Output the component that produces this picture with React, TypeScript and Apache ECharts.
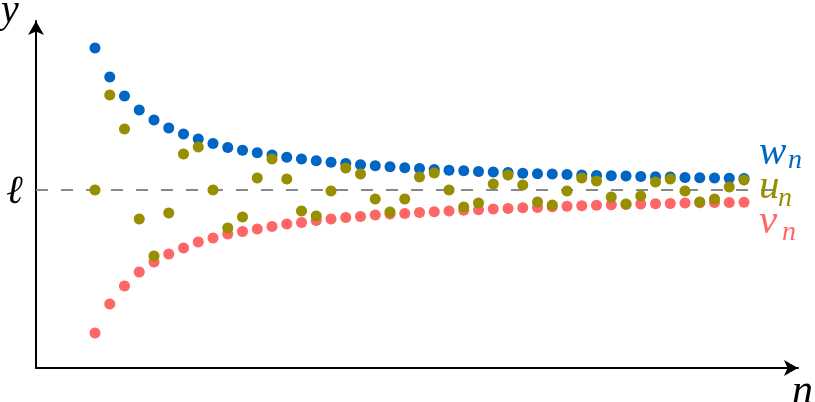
import React, { useEffect, useRef } from "react";
import * as echarts from "echarts";

// index n of each term
const nValues = [
  1, 2, 3, 4, 5, 6, 7, 8, 9, 10, 11, 12, 13, 14, 15, 16, 17, 18, 19, 20, 21, 22, 23,
  24, 25, 26, 27, 28, 29, 30, 31, 32, 33, 34, 35, 36, 37, 38, 39, 40, 41, 42, 43, 44, 45,
];
// w_n (decreasing to ℓ), values relative to ℓ = 0
const wValues = [
  142, 113, 94, 80, 70, 62, 56, 51, 46.5, 42.5, 39.8, 37.2, 35, 32.8, 31, 29.3, 27.8, 26.5,
  25.3, 24.2, 23.2, 22.3, 21.4, 20.6, 19.8, 19.2, 18.5, 17.9, 17.4, 16.8, 16.3, 15.9, 15.4,
  15, 14.6, 14.2, 13.9, 13.5, 13.2, 12.9, 12.6, 12.3, 12, 11.8, 11.6,
];
// u_n (oscillating around ℓ)
const uValues = [
  0, 95, 61, -29, -66, -23, 36, 43, 0, -38, -27, 12, 31, 11, -21, -26, -1, 22, 16, -9, -22,
  -9, 13, 17, 0, -17, -13, 6, 15, 5, -12, -15, -1, 12, 9, -7, -14, -6, 8, 11, -1, -12, -9, 3, 10,
];
// v_n (increasing to ℓ)
const vValues = [
  -143, -114, -96, -82, -72, -64, -58, -52, -48, -44, -41.5, -39, -36.5, -34, -32.5, -30.6,
  -29, -27.6, -26.4, -25, -24, -23.4, -22.6, -21.8, -21, -20.3, -19.8, -19, -18.4, -17.8,
  -17.4, -16.8, -16.2, -15.7, -15.2, -14.8, -14.4, -14, -13.7, -13.4, -13.1, -12.8, -12.6,
  -12.4, -12.2,
];
const ellLevel = 0;
const dashRange = [-3, 47];
const xRange = [-3, 48.66];
const yRange = [-178, 169];

const BLUE = "#0066c4";
const OLIVE = "#988f00";
const RED = "#ff6666";
const FONT = "Liberation Serif";

export default function App() {
  const ref = useRef<HTMLDivElement>(null);
  useEffect(() => {
    const chart = echarts.init(ref.current!, null, { renderer: "svg" });
    const pairs = (ys: number[]) => nValues.map((n, i) => [n, ys[i]]);
    const txt = (
      text: string,
      x: number,
      y: number,
      size: number,
      lh: number,
      color: string
    ) => ({
      type: "text",
      silent: true,
      z: 100,
      style: {
        text,
        x,
        y,
        fill: color,
        fontSize: size,
        fontFamily: FONT,
        fontStyle: "italic",
        lineHeight: lh,
        align: "left",
        verticalAlign: "middle",
        textAlign: "left",
        textVerticalAlign: "middle",
      },
    });
    const axisCommon = {
      type: "value" as const,
      axisTick: { show: false },
      axisLabel: { show: false },
      splitLine: { show: false },
    };
    const axisLine = {
      show: true,
      onZero: false,
      symbol: ["none", "arrow"],
      symbolSize: [12, 14],
      lineStyle: { color: "#000", width: 2 },
    };
    chart.setOption({
      animation: false,
      grid: { left: 36, right: 17, top: 21, bottom: 34, containLabel: false },
      xAxis: { ...axisCommon, min: xRange[0], max: xRange[1], axisLine },
      yAxis: { ...axisCommon, min: yRange[0], max: yRange[1], axisLine },
      series: [
        {
          type: "line",
          data: [
            [dashRange[0], ellLevel],
            [dashRange[1], ellLevel],
          ],
          symbol: "none",
          silent: true,
          lineStyle: { color: "#888888", width: 2, type: [12, 13] },
          z: 1,
        },
        {
          type: "scatter",
          name: "w",
          data: pairs(wValues),
          symbolSize: 11,
          itemStyle: { color: BLUE, opacity: 1 },
          z: 2,
        },
        {
          type: "scatter",
          name: "v",
          data: pairs(vValues),
          symbolSize: 11,
          itemStyle: { color: RED, opacity: 1 },
          z: 2,
        },
        {
          type: "scatter",
          name: "u",
          data: pairs(uValues),
          symbolSize: 11,
          itemStyle: { color: OLIVE, opacity: 1 },
          z: 3,
        },
      ],
      graphic: [
        txt("y", 1, 8, 40, 16, "#000"),
        txt("ℓ", 6, 189, 40, 30, "#000"),
        txt("n", 792, 389, 42, 20, "#000"),
        txt("w", 759, 150, 41, 24, BLUE),
        txt("n", 788, 158, 28, 16, BLUE),
        txt("u", 759, 184, 41, 24, OLIVE),
        txt("n", 778, 196, 28, 16, OLIVE),
        txt("v", 759, 219, 41, 24, RED),
        txt("n", 782, 230, 28, 16, RED),
      ],
    });
    return () => chart.dispose();
  }, []);
  return (
    <div
      ref={ref}
      style={{ position: "fixed", left: 0, top: 0, width: 815, height: 402 }}
    />
  );
}
